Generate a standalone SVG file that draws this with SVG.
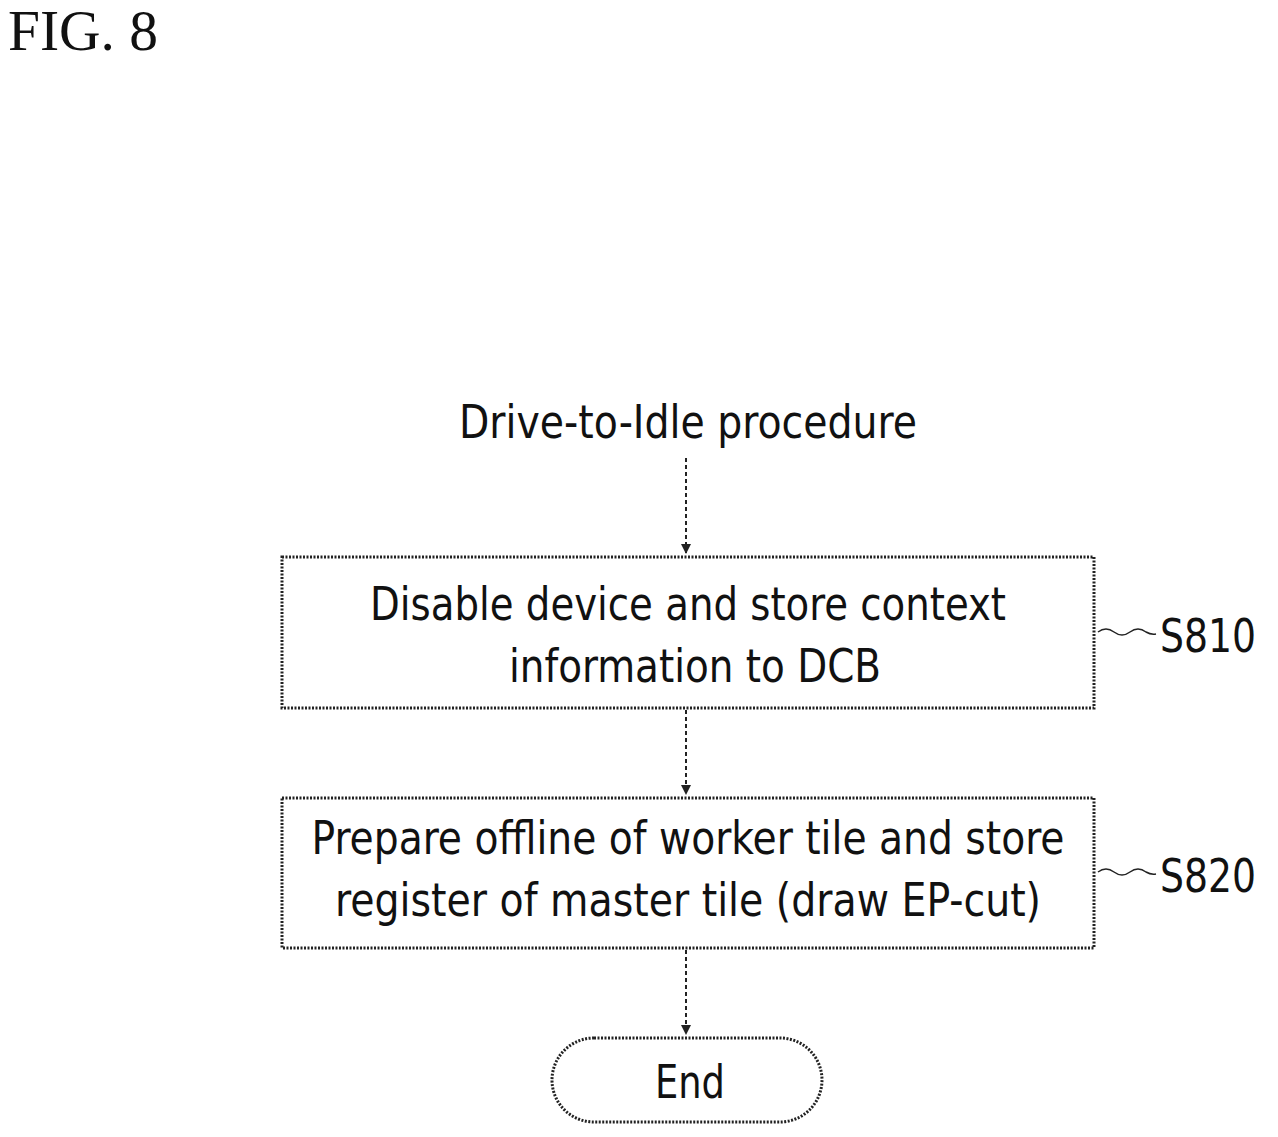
<svg xmlns="http://www.w3.org/2000/svg" width="1278" height="1137" viewBox="0 0 1278 1137">
<style>
.t{font-family:"DejaVu Sans Condensed","DejaVu Sans",sans-serif;font-size:46px;fill:#111;text-anchor:middle}
.b{fill:#fff;stroke:#222;stroke-width:3;stroke-dasharray:2 1.5}
.c{stroke:#222;stroke-width:2;stroke-dasharray:4 3;fill:none}
</style>
<defs><marker id="a" markerWidth="10" markerHeight="10" refX="9" refY="5" orient="auto" markerUnits="userSpaceOnUse"><path d="M0,0 L10,5 L0,10 Z" fill="#222"/></marker></defs>
<rect width="1278" height="1137" fill="#fff"/>
<text x="8" y="50" font-family="Liberation Serif,serif" font-size="56" fill="#111" textLength="150" lengthAdjust="spacingAndGlyphs">FIG. 8</text>
<text class="t" x="688" y="438" textLength="458" lengthAdjust="spacingAndGlyphs">Drive-to-Idle procedure</text>
<g id="connectors">
<path class="c" d="M686,458 V553" marker-end="url(#a)"/>
<path class="c" d="M686,710 V794" marker-end="url(#a)"/>
<path class="c" d="M686,950 V1034" marker-end="url(#a)"/>
<path class="c" style="stroke-dasharray:none;stroke-width:1.5" d="M1098,632 q8,-6 16,0 t16,0 t16,0 q5,3 10,2"/>
<path class="c" style="stroke-dasharray:none;stroke-width:1.5" d="M1098,872 q8,-6 16,0 t16,0 t16,0 q5,3 10,2"/>
</g>
<g id="s810">
<rect class="b" x="282" y="557" width="812" height="151"/>
<text class="t" x="688" y="620" textLength="636" lengthAdjust="spacingAndGlyphs">Disable device and store context</text>
<text class="t" x="695" y="682" textLength="372" lengthAdjust="spacingAndGlyphs">information to DCB</text>
<text class="t" x="1208" y="652" textLength="96" lengthAdjust="spacingAndGlyphs">S810</text>
</g>
<g id="s820">
<rect class="b" x="282" y="798" width="812" height="150"/>
<text class="t" x="688" y="854" textLength="753" lengthAdjust="spacingAndGlyphs">Prepare offline of worker tile and store</text>
<text class="t" x="688" y="916" textLength="706" lengthAdjust="spacingAndGlyphs">register of master tile (draw EP-cut)</text>
<text class="t" x="1208" y="892" textLength="96" lengthAdjust="spacingAndGlyphs">S820</text>
</g>
<g id="end">
<rect class="b" x="552" y="1038" width="270" height="84" rx="42"/>
<text class="t" x="690" y="1098" textLength="70" lengthAdjust="spacingAndGlyphs">End</text>
</g>
</svg>
